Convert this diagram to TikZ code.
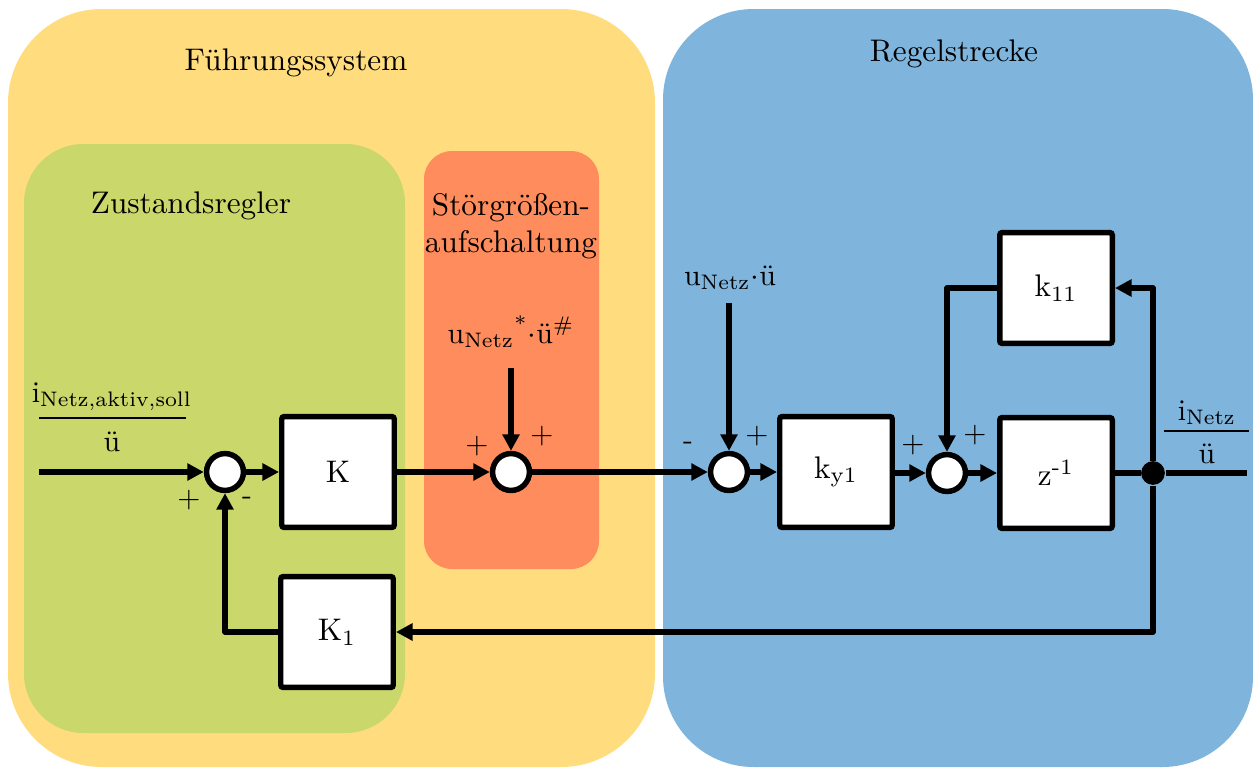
\documentclass[tikz,border=0pt]{standalone}
\usepackage{fontspec}
\usetikzlibrary{arrows.meta}
\definecolor{cYellow}{HTML}{FFDC7E}
\definecolor{cGreen}{HTML}{CAD76B}
\definecolor{cOrange}{HTML}{FF8C5C}
\definecolor{cBlue}{HTML}{7FB5DD}
\begin{document}
\begin{tikzpicture}[x=0.32pt,y=-0.32pt,
  title/.style={font=\fontsize{10}{12}\selectfont, inner sep=0pt, anchor=base},
  lbl/.style={font=\fontsize{9.6}{11}\selectfont, inner sep=0pt},
  sgn/.style={font=\fontsize{9.5}{11}\selectfont, inner sep=0pt},
  blk/.style={draw, line width=1.75pt, fill=white, rounded corners=0.8pt,
    minimum width=36pt, minimum height=35.5pt, inner sep=0pt,
    font=\fontsize{10}{12}\selectfont},
  sumc/.style={circle, draw, line width=1.75pt, fill=white, minimum size=11.8pt, inner sep=0pt},
  jdot/.style={circle, fill=black, minimum size=7.6pt, inner sep=0pt},
  line/.style={line width=1.75pt, line join=round},
  sig/.style={line, -{Triangle[length=5.3pt,width=5.3pt]}}
]
\useasboundingbox (0,0) rectangle (1253,767);
% regions
\fill[cYellow, rounded corners=30pt] (8,9) rectangle (655,767);
\fill[cBlue, rounded corners=29pt] (663,9) rectangle (1253,767);
\fill[cGreen, rounded corners=19pt] (24,144) rectangle (405,733);
\fill[cOrange, rounded corners=9pt] (424,151) rectangle (599,569);
% titles
\node[title] (tF) at (296,70) {Führungssystem};
\node[title] (tR) at (954,61) {Regelstrecke};
\node[title] (tZ) at (191,213) {Zustandsregler};
\node[title] (tS1) at (511,215) {Störgrößen-};
\node[title] (tS2) at (511,252) {aufschaltung};
% blocks
\node[sumc] (s1) at (225,472) {};
\node[sumc] (s2) at (511,472) {};
\node[sumc] (s3) at (729,472) {};
\node[sumc] (s4) at (947,473) {};
\node[blk] (K) at (338,472) {K};
\node[blk] (K1) at (337,632) {K\textsubscript{1}};
\node[blk] (ky) at (836,472) {k\textsubscript{y1}};
\node[blk] (k11) at (1056,288) {k\textsubscript{11}};
\node[blk] (z) at (1056,473) {z\textsuperscript{-1}};
\node[jdot] (j) at (1153,473) {};
\coordinate (in) at (39,472);
\coordinate (out) at (1247,473);
\coordinate (c3) at (729,303);
\coordinate (c2) at (511,368);
% labels
\node[lbl, anchor=base] (uN) at (730,285) {u\textsubscript{Netz}$\cdot$ü};
\node[lbl, anchor=base] (uNs) at (511,343) {u\textsubscript{Netz}\textsuperscript{*}$\cdot$ü\textsuperscript{\#}};
\node[lbl, anchor=base] (inL) at (112,402) {i\textsubscript{Netz,aktiv,soll}};
\node[lbl, anchor=base] (inD) at (112,451) {ü};
\node[lbl, anchor=base] (outL) at (1207,420) {i\textsubscript{Netz}};
\node[lbl, anchor=base] (outD) at (1207,463) {ü};
\draw[line width=0.6pt] (39,418) -- (186,418);
\draw[line width=0.6pt] (1164,431) -- (1249,431);
% signs
\node[sgn] (p1) at (189,500) {+};
\node[sgn] (m1) at (247,501) {-};
\node[sgn] (p2) at (477,446) {+};
\node[sgn] (p3) at (542,436) {+};
\node[sgn] (m3) at (688,446) {-};
\node[sgn] (p4) at (757,436) {+};
\node[sgn] (p5) at (913,445) {+};
\node[sgn] (p6) at (975,435) {+};
% connectors
\draw[sig] (in) -- (s1);
\draw[sig] (s1) -- (K);
\draw[sig] (K) -- (s2);
\draw[sig] (s2) -- (s3);
\draw[sig] (s3) -- (ky);
\draw[sig] (ky.east |- s4) -- (s4);
\draw[sig] (s4) -- (z);
\draw[line] (z) -- (j) -- (out);
\draw[sig] (j) |- (K1);
\draw[sig] (K1) -| (s1);
\draw[sig] (j) |- (k11);
\draw[sig] (k11) -| (s4);
\draw[sig] (c3) -- (s3);
\draw[sig] (c2) -- (s2);
\end{tikzpicture}
\end{document}
